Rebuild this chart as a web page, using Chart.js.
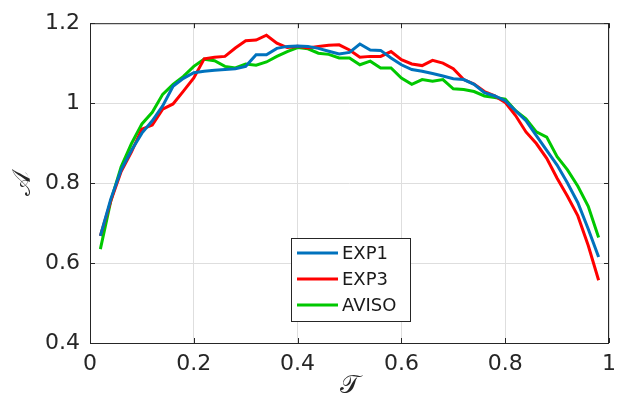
<!DOCTYPE html>
<html>
<head>
<meta charset="utf-8">
<script src="https://cdn.jsdelivr.net/npm/chart.js@4/dist/chart.umd.min.js"></script>
<style>
  html, body { margin: 0; background: #fff; }
</style>
</head>
<body>
<canvas id="chart" width="626" height="403"></canvas>
<script>
// --- data ---
const tau = [0.02, 0.04, 0.06, 0.08, 0.10, 0.12, 0.14, 0.16, 0.18, 0.20,
             0.22, 0.24, 0.26, 0.28, 0.30, 0.32, 0.34, 0.36, 0.38, 0.40,
             0.42, 0.44, 0.46, 0.48, 0.50, 0.52, 0.54, 0.56, 0.58, 0.60,
             0.62, 0.64, 0.66, 0.68, 0.70, 0.72, 0.74, 0.76, 0.78, 0.80,
             0.82, 0.84, 0.86, 0.88, 0.90, 0.92, 0.94, 0.96, 0.98];

const exp1 = [0.668, 0.760, 0.833, 0.882, 0.925, 0.956, 0.993, 1.042, 1.062, 1.076,
              1.080, 1.082, 1.084, 1.086, 1.092, 1.121, 1.121, 1.137, 1.142, 1.143,
              1.142, 1.137, 1.130, 1.123, 1.127, 1.148, 1.133, 1.132, 1.113, 1.096,
              1.084, 1.080, 1.074, 1.068, 1.061, 1.059, 1.047, 1.026, 1.018, 1.006,
              0.981, 0.956, 0.919, 0.882, 0.845, 0.800, 0.751, 0.685, 0.615];

const exp3 = [0.668, 0.755, 0.829, 0.878, 0.935, 0.945, 0.985, 0.998, 1.030, 1.063,
              1.111, 1.115, 1.117, 1.138, 1.156, 1.158, 1.170, 1.150, 1.139, 1.142,
              1.138, 1.142, 1.145, 1.146, 1.133, 1.115, 1.117, 1.117, 1.129, 1.109,
              1.098, 1.094, 1.107, 1.100, 1.086, 1.059, 1.048, 1.029, 1.018, 1.002,
              0.969, 0.928, 0.899, 0.862, 0.812, 0.767, 0.718, 0.644, 0.557];

const aviso = [0.635, 0.755, 0.841, 0.899, 0.948, 0.977, 1.022, 1.047, 1.067, 1.092,
               1.110, 1.106, 1.092, 1.088, 1.098, 1.095, 1.103, 1.117, 1.129, 1.139,
               1.136, 1.125, 1.122, 1.113, 1.113, 1.096, 1.105, 1.088, 1.088, 1.063,
               1.047, 1.059, 1.055, 1.059, 1.036, 1.034, 1.029, 1.018, 1.014, 1.010,
               0.981, 0.961, 0.928, 0.915, 0.866, 0.833, 0.792, 0.742, 0.664];

const xTicks = [0, 0.2, 0.4, 0.6, 0.8, 1];
const yTicks = [0.4, 0.6, 0.8, 1, 1.2];

const FONT = '"DejaVu Sans", sans-serif';
const AXIS = '#262626';

const pts = ys => tau.map((t, i) => ({ x: t, y: ys[i] }));
const line = (label, ys, color) => ({
  label, data: pts(ys), borderColor: color, backgroundColor: color,
  borderWidth: 3, pointRadius: 0, tension: 0, fill: false
});

// box round the axes, inward ticks, legend inside the plot
const matlabBox = {
  id: 'matlabBox',
  afterDraw(chart) {
    const { ctx, chartArea: a, scales } = chart;
    ctx.save();
    ctx.strokeStyle = AXIS;
    ctx.lineWidth = 1;
    ctx.strokeRect(a.left + 0.5, a.top + 0.5, a.right - a.left - 1, a.bottom - a.top);
    ctx.beginPath();
    xTicks.forEach(v => {
      const x = Math.round(scales.x.getPixelForValue(v)) + 0.5;
      ctx.moveTo(x, a.bottom); ctx.lineTo(x, a.bottom - 5);
      ctx.moveTo(x, a.top); ctx.lineTo(x, a.top + 5);
    });
    yTicks.forEach(v => {
      const y = Math.round(scales.y.getPixelForValue(v)) + 0.5;
      ctx.moveTo(a.left, y); ctx.lineTo(a.left + 5, y);
      ctx.moveTo(a.right, y); ctx.lineTo(a.right - 5, y);
    });
    ctx.stroke();

    // legend
    const bx = 291, by = 238, bw = 119, bh = 83;
    ctx.fillStyle = '#fff';
    ctx.fillRect(bx, by, bw, bh);
    ctx.strokeStyle = AXIS;
    ctx.strokeRect(bx + 0.5, by + 0.5, bw, bh);
    ctx.font = '18px ' + FONT;
    ctx.textBaseline = 'middle';
    chart.data.datasets.forEach((ds, i) => {
      const y = by + 15 + i * 26;
      ctx.strokeStyle = ds.borderColor;
      ctx.lineWidth = 3;
      ctx.beginPath(); ctx.moveTo(297, y); ctx.lineTo(338, y); ctx.stroke();
      ctx.fillStyle = '#1a1a1a';
      ctx.fillText(ds.label, 342, y + 1);
    });
    ctx.restore();
  }
};

new Chart(document.getElementById('chart'), {
  type: 'line',
  data: {
    datasets: [
      line('EXP1', exp1, '#0072BD'),
      line('EXP3', exp3, '#FF0000'),
      line('AVISO', aviso, '#00C800')
    ]
  },
  options: {
    responsive: false,
    animation: false,
    layout: { padding: { left: 8, right: 17, top: 18, bottom: 0 } },
    plugins: { legend: { display: false }, tooltip: { enabled: false } },
    scales: {
      x: {
        type: 'linear', min: 0, max: 1,
        afterBuildTicks: s => { s.ticks = xTicks.map(v => ({ value: v })); },
        afterFit: s => { s.height = 60; },
        grid: { color: '#dedede', drawTicks: false },
        border: { display: false },
        ticks: { color: AXIS, padding: 8, font: { family: FONT, size: 22 },
                 callback: v => String(v) },
        title: { display: true, text: '𝒯', color: AXIS, padding: { top: 0, bottom: 1 },
                 font: { family: '"DejaVu Serif", "DejaVu Sans", serif', size: 26 } }
      },
      y: {
        type: 'linear', min: 0.4, max: 1.2,
        afterBuildTicks: s => { s.ticks = yTicks.map(v => ({ value: v })); },
        afterFit: s => { s.width = 82; },
        grid: { color: '#dedede', drawTicks: false },
        border: { display: false },
        ticks: { color: AXIS, padding: 10, font: { family: FONT, size: 22 },
                 callback: v => String(v) },
        title: { display: true, text: '𝒜', color: AXIS, padding: { top: 0, bottom: 0 },
                 font: { family: '"DejaVu Serif", "DejaVu Sans", serif', size: 26 } }
      }
    }
  },
  plugins: [matlabBox]
});
</script>
</body>
</html>
